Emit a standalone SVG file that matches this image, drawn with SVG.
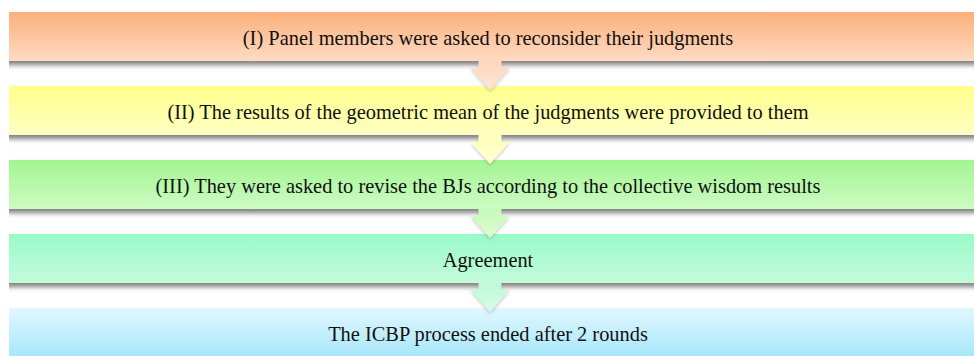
<svg xmlns="http://www.w3.org/2000/svg" width="974" height="356" viewBox="0 0 974 356">
<defs>
<linearGradient id="g1" x1="0" y1="0" x2="0" y2="1"><stop offset="0" stop-color="#FBB07A"/><stop offset="1" stop-color="#FFDBC4"/></linearGradient>
<linearGradient id="g2" x1="0" y1="0" x2="0" y2="1"><stop offset="0" stop-color="#FFFF8A"/><stop offset="1" stop-color="#FFFFC4"/></linearGradient>
<linearGradient id="g3" x1="0" y1="0" x2="0" y2="1"><stop offset="0" stop-color="#A2F592"/><stop offset="1" stop-color="#CDFBC2"/></linearGradient>
<linearGradient id="g4" x1="0" y1="0" x2="0" y2="1"><stop offset="0" stop-color="#98FAC8"/><stop offset="1" stop-color="#C4FBDB"/></linearGradient>
<linearGradient id="g5" x1="0" y1="0" x2="0" y2="1"><stop offset="0" stop-color="#E2F7FF"/><stop offset="1" stop-color="#A3E6FB"/></linearGradient>
<linearGradient id="a1" x1="0" y1="0" x2="0" y2="1"><stop offset="0" stop-color="#FFD6BC"/><stop offset="1" stop-color="#FFE6D6"/></linearGradient>
<linearGradient id="a2" x1="0" y1="0" x2="0" y2="1"><stop offset="0" stop-color="#FFFFB8"/><stop offset="1" stop-color="#FFFFD6"/></linearGradient>
<linearGradient id="a3" x1="0" y1="0" x2="0" y2="1"><stop offset="0" stop-color="#C6F9B8"/><stop offset="1" stop-color="#DDFCD4"/></linearGradient>
<linearGradient id="a4" x1="0" y1="0" x2="0" y2="1"><stop offset="0" stop-color="#BDF9D6"/><stop offset="1" stop-color="#D8FCE8"/></linearGradient>
<filter id="sh" x="-5%" y="-20%" width="110%" height="160%">
<feGaussianBlur in="SourceAlpha" stdDeviation="0.5 2.5"/>
<feOffset dy="4" result="b"/>
<feFlood flood-color="#555" flood-opacity="0.75"/>
<feComposite in2="b" operator="in" result="s"/>
<feMerge><feMergeNode in="s"/><feMergeNode in="SourceGraphic"/></feMerge>
</filter>
<filter id="ash" x="-30%" y="-30%" width="160%" height="160%">
<feGaussianBlur in="SourceAlpha" stdDeviation="1.5"/>
<feOffset dy="2" result="b"/>
<feFlood flood-color="#777" flood-opacity="0.35"/>
<feComposite in2="b" operator="in" result="s"/>
<feMerge><feMergeNode in="s"/><feMergeNode in="SourceGraphic"/></feMerge>
</filter>
<path id="arr" d="M-11.5,0 H11.5 V7 H19.5 L0,29 L-19.5,7 H-11.5 Z"/>
</defs>
<style>
.box{filter:url(#sh);}
.lbl{font-family:"Liberation Serif","Times New Roman",serif;font-size:20.4px;fill:#111;text-anchor:middle;}
.arrow{filter:url(#ash);}
</style>
<g id="node1"><rect class="box" x="9" y="12" width="985" height="49" fill="url(#g1)"/><text class="lbl" x="488" y="45">(I) Panel members were asked to reconsider their judgments</text></g>
<g id="node2"><rect class="box" x="9" y="86" width="985" height="49" fill="url(#g2)"/><text class="lbl" x="488" y="119">(II) The results of the geometric mean of the judgments were provided to them</text></g>
<g id="node3"><rect class="box" x="9" y="160" width="985" height="49" fill="url(#g3)"/><text class="lbl" x="488" y="193">(III) They were asked to revise the BJs according to the collective wisdom results</text></g>
<g id="node4"><rect class="box" x="9" y="234" width="985" height="49" fill="url(#g4)"/><text class="lbl" x="488" y="267">Agreement</text></g>
<g id="node5"><rect class="box" x="9" y="308" width="985" height="52" fill="url(#g5)"/><text class="lbl" x="488" y="341">The ICBP process ended after 2 rounds</text></g>
<g id="connectors">
<use class="arrow" href="#arr" x="490" y="61" fill="url(#a1)"/>
<use class="arrow" href="#arr" x="490" y="135" fill="url(#a2)"/>
<use class="arrow" href="#arr" x="490" y="209" fill="url(#a3)"/>
<use class="arrow" href="#arr" x="490" y="283" fill="url(#a4)"/>
</g>
</svg>
